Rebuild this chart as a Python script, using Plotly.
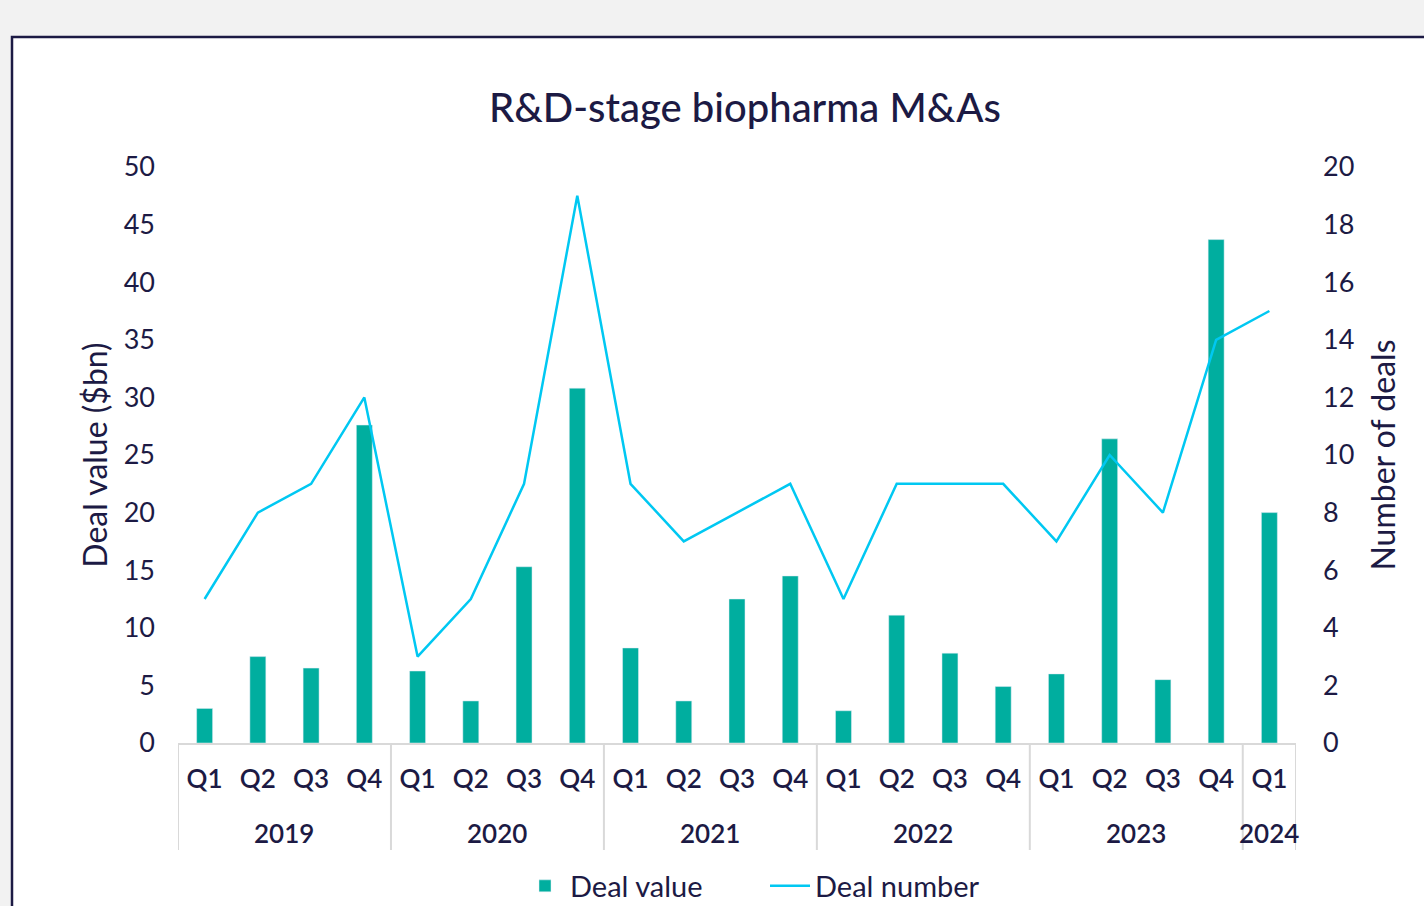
import plotly.graph_objects as go

years = ["2019"] * 4 + ["2020"] * 4 + ["2021"] * 4 + ["2022"] * 4 + ["2023"] * 4 + ["2024"]
quarters = ["Q1", "Q2", "Q3", "Q4"] * 5 + ["Q1"]
deal_value = [3.0, 7.5, 6.5, 27.6, 6.25, 3.65, 15.3, 30.8, 8.25, 3.65, 12.5, 14.5,
              2.8, 11.1, 7.8, 4.9, 6.0, 26.4, 5.5, 43.7, 20.0]
deal_number = [5, 8, 9, 12, 3, 5, 9, 19, 9, 7, 8, 9, 5, 9, 9, 9, 7, 10, 8, 14, 15]

TEXT = "#1c1a44"
FONT = "Lato"
GRID = "#d9d9d9"
W, H = 1424, 906
L, R, T, B = 178, 128, 167, 163
pw, ph = W - L - R, H - T - B

cats = [f"{y} {q}" for y, q in zip(years, quarters)]

fig = go.Figure()
fig.add_trace(go.Bar(x=cats, y=deal_value, name="Deal value",
                     marker_color="#00ae9f", width=0.3, yaxis="y"))
fig.add_trace(go.Scatter(x=cats, y=deal_number, name="Deal number",
                         mode="lines", line=dict(color="#00c8f2", width=2.5), yaxis="y2"))

# white card with dark border
fig.add_shape(type="rect", xref="paper", yref="paper", x0=(12 - L) / pw, x1=(W + 20 - L) / pw,
              y0=-(B + 20) / ph, y1=1 - (37 - T) / ph, line=dict(color=TEXT, width=2.5),
              fillcolor="white", layer="below")

# year groups: labels and dividers
unique_years = list(dict.fromkeys(years))
bounds = [-0.5]
for yr in unique_years:
    idx = [i for i, v in enumerate(years) if v == yr]
    fig.add_annotation(x=sum(idx) / len(idx), xref="x", y=-(833 - 743) / ph, yref="paper",
                       text=yr, showarrow=False, yanchor="middle",
                       font=dict(size=26, color=TEXT, family=FONT, weight=600))
    bounds.append(idx[-1] + 0.5)
for b in bounds:
    fig.add_shape(type="line", xref="x", yref="paper", x0=b, x1=b, y0=0, y1=-(850 - 743) / ph,
                  line=dict(color=GRID, width=2))

fig.update_layout(
    width=W, height=H,
    margin=dict(l=L, r=R, t=T, b=B, autoexpand=False),
    paper_bgcolor="#f2f2f2", plot_bgcolor="rgba(0,0,0,0)",
    font=dict(family=FONT, color=TEXT, size=27),
    title=dict(text="R&D-stage biopharma M&As", x=745 / W,
               xanchor="center", y=1 - 108 / H, yanchor="middle",
               font=dict(size=40, color=TEXT, family=FONT, weight=500)),
    xaxis=dict(type="category", tickvals=cats, ticktext=quarters,
               showline=True, linecolor=GRID, linewidth=2, range=[-0.5, len(cats) - 0.5],
               tickfont=dict(size=26, color=TEXT, family=FONT, weight=600),
               ticklabelstandoff=12, showgrid=False, ticks=""),
    yaxis=dict(range=[0, 50], dtick=5, showgrid=False, zeroline=False,
               title=dict(text="Deal value ($bn)", font=dict(size=32), standoff=6),
               tickfont=dict(size=27), ticklabelstandoff=22),
    yaxis2=dict(range=[0, 20], dtick=2, overlaying="y", side="right", showgrid=False,
                zeroline=False, title=dict(text="Number of deals", font=dict(size=32), standoff=19),
                tickfont=dict(size=27), ticklabelstandoff=26),
    legend=dict(orientation="h", x=(765 - L) / pw, xanchor="center", y=-(886 - 743) / ph,
                yanchor="middle", font=dict(size=29), bgcolor="rgba(0,0,0,0)",
                entrywidth=190, entrywidthmode="pixels", itemwidth=40),
    bargap=0.7,
)
fig.write_html("out.html", post_script="document.body.style.margin='0';",
               config={"displayModeBar": False})
